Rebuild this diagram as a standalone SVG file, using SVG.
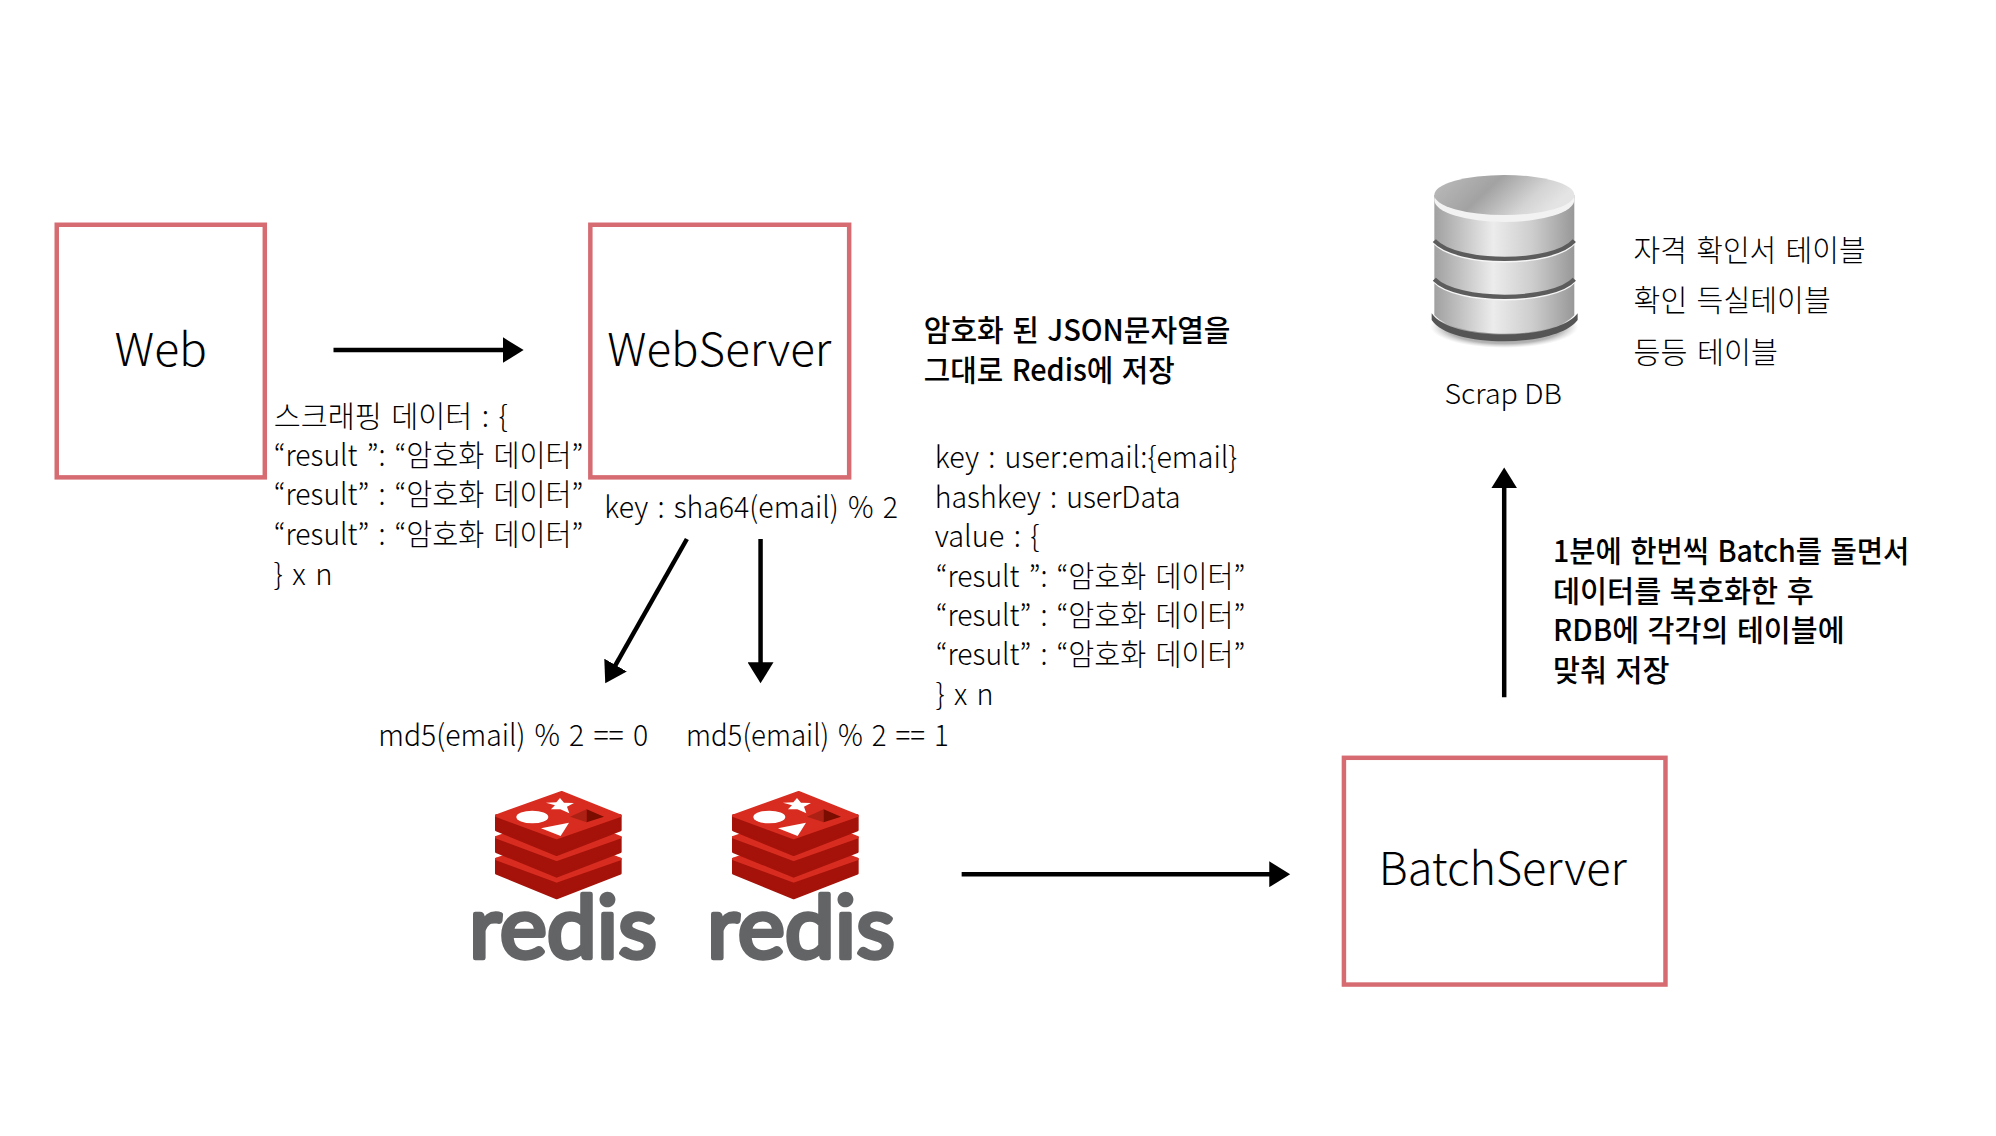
<svg xmlns="http://www.w3.org/2000/svg" xmlns:xlink="http://www.w3.org/1999/xlink" width="1996" height="1136" viewBox="0 0 1996 1136">
<style>
text{font-family:"Noto Sans CJK KR","Noto Sans",sans-serif;fill:#000;font-weight:300}
.t{font-size:30px;word-spacing:3px}
.b{font-size:30px;font-weight:500;word-spacing:2px}
.big{font-size:46px}
.box{fill:#fff;stroke:#d66c72;stroke-width:4.5}
.c{fill:none;stroke:#000;stroke-width:4.5}
.rw{font-family:Lato,"Open Sans",sans-serif;font-size:88px;font-weight:400;fill:#636466;stroke:#636466;stroke-width:4.5;stroke-linejoin:round}
.rt{fill:#d82c20;stroke:#d82c20;stroke-width:8;stroke-linejoin:round}
.rs{fill:#a41209;stroke:#a41209;stroke-width:8;stroke-linejoin:round}
</style>
<defs>
<marker id="ah" markerUnits="userSpaceOnUse" markerWidth="24" markerHeight="26" refX="10" refY="13" orient="auto"><path d="M0,0 L21,13 L0,26 Z" fill="#000"/></marker>
<linearGradient id="dbBody" x1="0" x2="1" y1="0" y2="0"><stop offset="0" stop-color="#a0a0a0"/><stop offset=".42" stop-color="#ececec"/><stop offset=".7" stop-color="#cdcdcd"/><stop offset="1" stop-color="#989898"/></linearGradient>
<linearGradient id="dbTop" x1="0" x2="1" y1="0" y2=".3"><stop offset="0" stop-color="#bdbdbd"/><stop offset=".45" stop-color="#a2a2a2"/><stop offset=".8" stop-color="#d4d4d4"/><stop offset="1" stop-color="#e4e4e4"/></linearGradient>
<radialGradient id="dbShadow"><stop offset="0" stop-color="#555" stop-opacity=".9"/><stop offset=".8" stop-color="#777" stop-opacity=".55"/><stop offset="1" stop-color="#aaa" stop-opacity="0"/></radialGradient>
<g id="redisLogo">
<g transform="translate(0,130)"><path class="rs" d="M169,137 V180 L350,254 L541,180 V137 Z"/><path class="rt" d="M169,137 L365,67 L541,137 L350,204 Z"/></g>
<g transform="translate(0,65)"><path class="rs" d="M169,137 V180 L350,254 L541,180 V137 Z"/><path class="rt" d="M169,137 L365,67 L541,137 L350,204 Z"/></g>
<path class="rs" d="M169,137 V180 L350,254 L541,180 V137 Z"/>
<path class="rt" d="M169,137 L365,67 L541,137 L350,204 Z"/>
<ellipse cx="277" cy="141" rx="48" ry="19" fill="#fff"/>
<path d="M360,84 L372,98 L402,99 L381,110 L388,130 L361,118 L333,118 L345,106 L318,98 L349,97 Z" fill="#fff"/>
<path d="M303,175 L387,158 L362,198 Z" fill="#fff"/>
<path d="M390,140 L440,118 L440,157 Z" fill="#ad2115"/>
<path d="M440,118 L492,140 L440,157 Z" fill="#7a0c00"/>
</g>
</defs>
<rect width="1996" height="1136" fill="#fff"/>

<g transform="scale(.9955,.9945)">
<g id="connectors">
<line class="c" x1="335" y1="352" x2="515" y2="352" marker-end="url(#ah)"/>
<line class="c" x1="690" y1="542" x2="613.4" y2="677.4" marker-end="url(#ah)"/>
<line class="c" x1="764" y1="542" x2="764" y2="676" marker-end="url(#ah)"/>
<line class="c" x1="966" y1="879" x2="1285" y2="879" marker-end="url(#ah)"/>
<line class="c" x1="1511" y1="701" x2="1511" y2="481" marker-end="url(#ah)"/>
</g>

<g id="web">
<rect class="box" x="57" y="226" width="209" height="254"/>
<text class="big" x="115" y="368" textLength="93" lengthAdjust="spacingAndGlyphs">Web</text>
</g>
<g id="webserver">
<rect class="box" x="593" y="226" width="260" height="254"/>
<text class="big" x="610" y="368" textLength="225" lengthAdjust="spacingAndGlyphs">WebServer</text>
</g>
<g id="batchserver">
<rect class="box" x="1350" y="762" width="323" height="228"/>
<text class="big" x="1385" y="890" textLength="249" lengthAdjust="spacingAndGlyphs">BatchServer</text>
</g>

<g id="scrap-data">
<text class="t" x="275" y="429" textLength="235" lengthAdjust="spacingAndGlyphs">스크래핑 데이터 : {</text>
<text class="t" x="275" y="469" textLength="311" lengthAdjust="spacingAndGlyphs">“result ”: “암호화 데이터”</text>
<text class="t" x="275" y="508" textLength="311" lengthAdjust="spacingAndGlyphs">“result” : “암호화 데이터”</text>
<text class="t" x="275" y="548" textLength="311" lengthAdjust="spacingAndGlyphs">“result” : “암호화 데이터”</text>
<text class="t" x="275" y="588" textLength="59" lengthAdjust="spacingAndGlyphs">} x n</text>
</g>
<g id="sha-key">
<text class="t" x="607" y="521" textLength="295" lengthAdjust="spacingAndGlyphs">key : sha64(email) % 2</text>
</g>
<g id="note-json">
<text class="b" x="928" y="343" textLength="308" lengthAdjust="spacingAndGlyphs">암호화 된 JSON문자열을</text>
<text class="b" x="928" y="383" textLength="252" lengthAdjust="spacingAndGlyphs">그대로 Redis에 저장</text>
</g>
<g id="redis-entry">
<text class="t" x="939" y="471" textLength="304" lengthAdjust="spacingAndGlyphs">key : user:email:{email}</text>
<text class="t" x="939" y="511" textLength="247" lengthAdjust="spacingAndGlyphs">hashkey : userData</text>
<text class="t" x="939" y="550" textLength="105" lengthAdjust="spacingAndGlyphs">value : {</text>
<text class="t" x="940" y="590" textLength="311" lengthAdjust="spacingAndGlyphs">“result ”: “암호화 데이터”</text>
<text class="t" x="940" y="629" textLength="311" lengthAdjust="spacingAndGlyphs">“result” : “암호화 데이터”</text>
<text class="t" x="940" y="669" textLength="311" lengthAdjust="spacingAndGlyphs">“result” : “암호화 데이터”</text>
<text class="t" x="940" y="709" textLength="58" lengthAdjust="spacingAndGlyphs">} x n</text>
</g>
<g id="md5-labels">
<text class="t" x="380" y="750" textLength="271" lengthAdjust="spacingAndGlyphs">md5(email) % 2 == 0</text>
<text class="t" x="689" y="750" textLength="264" lengthAdjust="spacingAndGlyphs">md5(email) % 2 == 1</text>
</g>
<g id="scrap-db-label">
<text x="1451" y="406" font-size="28" textLength="118" lengthAdjust="spacingAndGlyphs">Scrap DB</text>
</g>
<g id="tables">
<text class="t" x="1641" y="262" textLength="233" lengthAdjust="spacingAndGlyphs">자격 확인서 테이블</text>
<text class="t" x="1641" y="313" textLength="198" lengthAdjust="spacingAndGlyphs">확인 득실테이블</text>
<text class="t" x="1641" y="365" textLength="145" lengthAdjust="spacingAndGlyphs">등등 테이블</text>
</g>
<g id="note-batch">
<text class="b" x="1560" y="565" textLength="358" lengthAdjust="spacingAndGlyphs">1분에 한번씩 Batch를 돌면서</text>
<text class="b" x="1560" y="605" textLength="262" lengthAdjust="spacingAndGlyphs">데이터를 복호화한 후</text>
<text class="b" x="1560" y="645" textLength="293" lengthAdjust="spacingAndGlyphs">RDB에 각각의 테이블에</text>
<text class="b" x="1560" y="685" textLength="117" lengthAdjust="spacingAndGlyphs">맞춰 저장</text>
</g>
</g>

<g id="redis-0">
<use xlink:href="#redisLogo" href="#redisLogo" transform="translate(440,770) scale(.3333)"/>
<text class="rw" x="469" y="958" textLength="188" lengthAdjust="spacingAndGlyphs">redis</text>
</g>
<g id="redis-1">
<use xlink:href="#redisLogo" href="#redisLogo" transform="translate(677,770) scale(.3333)"/>
<text class="rw" x="707" y="958" textLength="188" lengthAdjust="spacingAndGlyphs">redis</text>
</g>

<g id="scrap-db">
<g transform="translate(1400,150) scale(.3333)">
<ellipse cx="313" cy="530" rx="222" ry="64" fill="url(#dbShadow)"/>
<path d="M95,490 C150,575 470,575 533,490 V510 C470,595 150,595 95,510 Z" fill="#555"/>
<path d="M103,135 V495 C170,570 460,570 523,495 V135 Z" fill="url(#dbBody)"/>
<ellipse cx="313" cy="150" rx="210" ry="66" fill="#f2f2f2"/>
<ellipse cx="313" cy="135" rx="210" ry="60" fill="url(#dbTop)"/>
<path d="M103,280 C170,352 460,352 523,280" fill="none" stroke="#f6f6f6" stroke-width="7"/>
<path d="M103,272 C170,345 460,345 523,272" fill="none" stroke="#5c5c5c" stroke-width="13"/>
<path d="M103,396 C170,465 460,465 523,396" fill="none" stroke="#f6f6f6" stroke-width="7"/>
<path d="M103,388 C170,458 460,458 523,388" fill="none" stroke="#5c5c5c" stroke-width="13"/>
</g>
</g>
</svg>
